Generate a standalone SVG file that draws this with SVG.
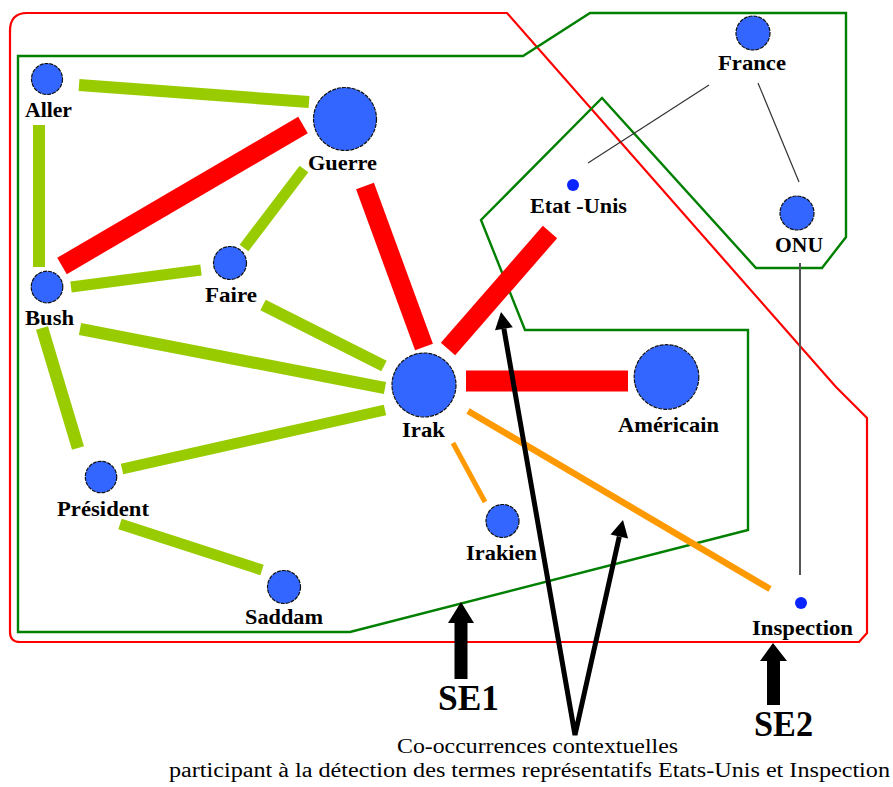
<svg xmlns="http://www.w3.org/2000/svg" width="893" height="787" viewBox="0 0 893 787">
<style>
  .bg { fill: #ffffff; }
  .node { fill: #3366ff; stroke: #111111; stroke-width: 1.2; stroke-dasharray: 4 1; }
  .dot { fill: #0a24ff; }
  .lbl { font-family: "Liberation Serif", "Times New Roman", serif; font-weight: bold; font-size: 21px; fill: #000000; }
  .se { font-family: "Liberation Serif", "Times New Roman", serif; font-weight: bold; font-size: 35px; fill: #000000; }
  .cap { font-family: "Liberation Serif", "Times New Roman", serif; font-size: 20px; fill: #000000; }
  .g { stroke: #99cc00; stroke-width: 12; fill: none; }
  .r { stroke: #ff0000; stroke-width: 19; fill: none; }
  .o { stroke: #ff9900; fill: none; }
  .thin { stroke: #333333; stroke-width: 1.2; fill: none; }
  .se2b { fill: none; stroke: #ff0000; stroke-width: 2.2; }
  .se1b { fill: none; stroke: #008000; stroke-width: 2.4; }
  .arr { stroke: #000000; stroke-width: 5; fill: none; }
</style>
<rect class="bg" x="0" y="0" width="893" height="787"/>

<g id="regions">
  <path id="SE2-region" class="se2b" d="M 27,13 L 507,13 L 836,387 L 867,418 L 867,633 L 859,642 L 20,642 Q 10,642 10,632 L 10,31 Q 10,13 27,13 Z"/>
  <path id="SE1-region" class="se1b" d="M 18,56 L 523,56 L 590,13 L 846,13 L 846,237 L 822,268 L 756,268 L 602,98 L 481,220 L 525,330 L 748,330 L 748,530 L 350,632 L 18,632 Z"/>
</g>

<g id="connectors">
  <line class="g" x1="79" y1="85" x2="309" y2="102"/>
  <line class="g" x1="39" y1="125" x2="39" y2="267"/>
  <line class="g" x1="304" y1="169" x2="244" y2="248" style="stroke-width:11"/>
  <line class="g" x1="71" y1="287" x2="201" y2="270" style="stroke-width:11"/>
  <line class="g" x1="263" y1="305" x2="384" y2="366"/>
  <line class="g" x1="80" y1="329" x2="385" y2="388"/>
  <line class="g" x1="42" y1="328" x2="78" y2="448" style="stroke-width:12.5"/>
  <line class="g" x1="122" y1="469" x2="385" y2="410" style="stroke-width:11"/>
  <line class="g" x1="120" y1="524" x2="262" y2="570" style="stroke-width:11"/>
  <line class="r" x1="303" y1="125" x2="62" y2="266"/>
  <line class="r" x1="365" y1="186" x2="424" y2="347"/>
  <line class="r" x1="448" y1="349" x2="550" y2="232"/>
  <line class="r" x1="466" y1="381" x2="628" y2="381" style="stroke-width:21"/>
  <line class="o" x1="468" y1="411" x2="770" y2="589" style="stroke-width:6.5"/>
  <line class="o" x1="453" y1="443" x2="485" y2="502" style="stroke-width:5"/>
  <line class="thin" x1="709" y1="85" x2="588" y2="163"/>
  <line class="thin" x1="758" y1="83" x2="799" y2="182"/>
  <line class="thin" x1="800" y1="263" x2="800" y2="575" style="stroke:#555555;stroke-width:2"/>
</g>

<g id="Aller"><circle class="node" cx="47" cy="79" r="15.5"/><text class="lbl" x="25" y="117" textLength="47" lengthAdjust="spacingAndGlyphs">Aller</text></g>
<g id="Guerre"><circle class="node" cx="345" cy="119" r="31.5"/><text class="lbl" x="308" y="170" textLength="69" lengthAdjust="spacingAndGlyphs">Guerre</text></g>
<g id="Faire"><circle class="node" cx="230" cy="263" r="16.5"/><text class="lbl" x="205" y="302" textLength="52" lengthAdjust="spacingAndGlyphs">Faire</text></g>
<g id="Bush"><circle class="node" cx="47" cy="287" r="15.8"/><text class="lbl" x="25" y="325" textLength="49" lengthAdjust="spacingAndGlyphs">Bush</text></g>
<g id="President"><circle class="node" cx="101" cy="477" r="15.7"/><text class="lbl" x="57" y="516" textLength="92" lengthAdjust="spacingAndGlyphs">Président</text></g>
<g id="Saddam"><circle class="node" cx="284" cy="587" r="16.5"/><text class="lbl" x="245" y="624" textLength="78" lengthAdjust="spacingAndGlyphs">Saddam</text></g>
<g id="Irak"><circle class="node" cx="424" cy="385" r="32"/><text class="lbl" x="402" y="437" textLength="43" lengthAdjust="spacingAndGlyphs">Irak</text></g>
<g id="Americain"><circle class="node" cx="666.5" cy="377" r="32.3"/><text class="lbl" x="618" y="432" textLength="101" lengthAdjust="spacingAndGlyphs">Américain</text></g>
<g id="Irakien"><circle class="node" cx="502.5" cy="521" r="16.5"/><text class="lbl" x="466" y="560" textLength="71" lengthAdjust="spacingAndGlyphs">Irakien</text></g>
<g id="France"><circle class="node" cx="753" cy="33" r="17"/><text class="lbl" x="718" y="70" textLength="68" lengthAdjust="spacingAndGlyphs">France</text></g>
<g id="ONU"><circle class="node" cx="797" cy="213" r="17"/><text class="lbl" x="775" y="252" textLength="48" lengthAdjust="spacingAndGlyphs">ONU</text></g>
<g id="Etats-Unis"><circle class="dot" cx="573" cy="185" r="6"/><text class="lbl" x="530" y="213" textLength="97" lengthAdjust="spacingAndGlyphs">Etat -Unis</text></g>
<g id="Inspection"><circle class="dot" cx="801" cy="603" r="6"/><text class="lbl" x="752" y="635" textLength="101" lengthAdjust="spacingAndGlyphs">Inspection</text></g>

<g id="annotations">
  <polygon id="SE1-arrow" points="461,602 474,623 467.5,623 467.5,679 454.5,679 454.5,623 448,623" fill="#000000"/>
  <text class="se" x="438" y="710" textLength="61" lengthAdjust="spacingAndGlyphs">SE1</text>
  <polygon id="SE2-arrow" points="773,643 787,661 780,661 780,705 767,705 767,661 760,661" fill="#000000"/>
  <text class="se" x="754" y="736" textLength="59" lengthAdjust="spacingAndGlyphs">SE2</text>
  <polyline class="arr" points="503.9,328.8 575,735 619.3,536.6" stroke-linejoin="miter"/>
  <polygon points="501,312 512.8,327.2 495,330.3" fill="#000000"/>
  <polygon points="623,520 628.1,538.6 610.5,534.6" fill="#000000"/>
  <text class="cap" x="397" y="753" textLength="281" lengthAdjust="spacingAndGlyphs">Co-occurrences contextuelles</text>
  <text class="cap" x="169" y="777" textLength="721" lengthAdjust="spacingAndGlyphs">participant à la détection des termes représentatifs Etats-Unis et Inspection</text>
</g>
</svg>
